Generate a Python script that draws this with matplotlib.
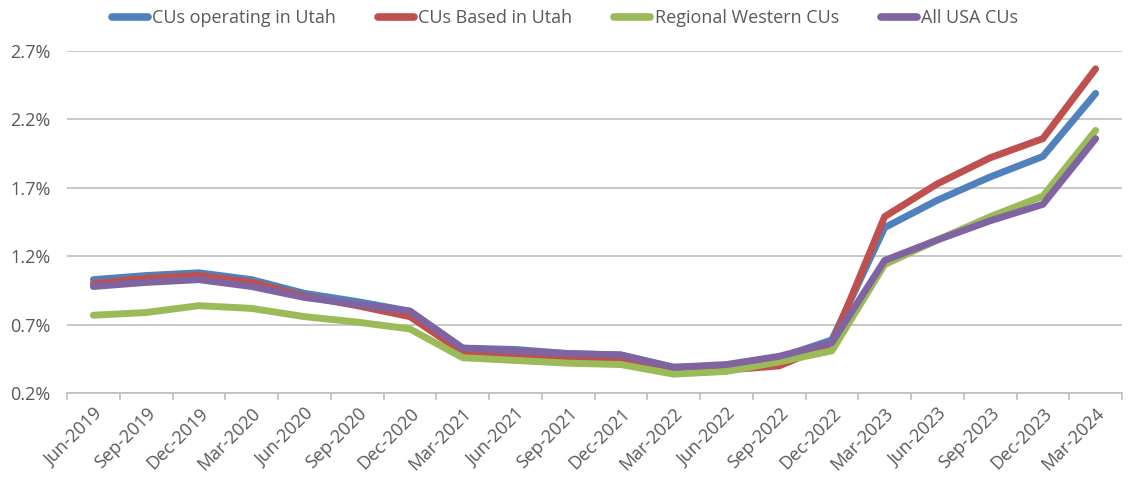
import matplotlib
matplotlib.use("Agg")
import matplotlib.pyplot as plt
from matplotlib.ticker import FixedLocator, FuncFormatter

categories = ["Jun-2019", "Sep-2019", "Dec-2019", "Mar-2020", "Jun-2020", "Sep-2020",
              "Dec-2020", "Mar-2021", "Jun-2021", "Sep-2021", "Dec-2021", "Mar-2022",
              "Jun-2022", "Sep-2022", "Dec-2022", "Mar-2023", "Jun-2023", "Sep-2023",
              "Dec-2023", "Mar-2024"]

utah_operating = [1.03, 1.06, 1.08, 1.03, 0.93, 0.87, 0.80, 0.53, 0.52, 0.49, 0.48, 0.39,
                  0.40, 0.46, 0.59, 1.41, 1.61, 1.78, 1.93, 2.39]
utah_based = [1.00, 1.04, 1.06, 1.01, 0.91, 0.84, 0.76, 0.50, 0.48, 0.46, 0.45, 0.37,
              0.37, 0.40, 0.56, 1.49, 1.73, 1.92, 2.06, 2.57]
regional_western = [0.77, 0.79, 0.84, 0.82, 0.76, 0.72, 0.67, 0.46, 0.44, 0.42, 0.41, 0.34,
                    0.36, 0.43, 0.51, 1.14, 1.32, 1.49, 1.64, 2.12]
all_usa = [0.98, 1.01, 1.03, 0.98, 0.90, 0.85, 0.80, 0.53, 0.51, 0.49, 0.48, 0.39,
           0.41, 0.47, 0.57, 1.17, 1.32, 1.46, 1.58, 2.06]

series_names = ["CUs operating in Utah", "CUs Based in Utah", "Regional Western CUs", "All USA CUs"]
colors = ["#4F81BD", "#C0504D", "#9BBB59", "#8064A2"]
yticks = [0.2, 0.7, 1.2, 1.7, 2.2, 2.7]

plt.rcParams['font.family'] = ['Open Sans', 'DejaVu Sans']
text_color = "#595959"
fs = 13

fig = plt.figure(figsize=(11.30, 4.79), dpi=100)
ax = fig.add_axes([67/1130, 1 - 393.3/479, (1122 - 67)/1130, (393.3 - 51)/479])

x = list(range(len(categories)))
for vals, name, c in zip([utah_operating, utah_based, regional_western, all_usa], series_names, colors):
    ax.plot(x, vals, color=c, lw=5, label=name, solid_capstyle='round', solid_joinstyle='round', zorder=3)

ax.set_xlim(-0.5, len(categories) - 0.5)
ax.set_ylim(0.2, 2.7)
ax.yaxis.set_major_locator(FixedLocator(yticks))
ax.yaxis.set_major_formatter(FuncFormatter(lambda v, p: f"{v:.1f}%"))
ax.grid(axis='y', color='#BFBFBF', lw=1.2, zorder=0)
ax.set_axisbelow(True)

for s in ['top', 'right', 'left']:
    ax.spines[s].set_visible(False)
ax.spines['bottom'].set_color('#BFBFBF')
ax.spines['bottom'].set_linewidth(1.2)

ax.set_xticks(x)
ax.set_xticklabels(categories, rotation=45, ha='right', rotation_mode='anchor',
                   fontsize=fs, color=text_color)
ax.tick_params(axis='x', which='major', length=0, pad=8)
ax.set_xticks([i - 0.5 for i in range(len(categories) + 1)], minor=True)
ax.tick_params(axis='x', which='minor', length=5, color='#BFBFBF', width=1.2)
ax.tick_params(axis='y', length=0, pad=12, labelsize=fs, labelcolor=text_color)

leg = fig.legend(loc='upper center', bbox_to_anchor=(0.5, 1.015), ncol=4, frameon=False,
                 fontsize=fs, handlelength=2.0, handletextpad=0.25, columnspacing=2.3)
for t in leg.get_texts():
    t.set_color(text_color)
for h in leg.legend_handles:
    h.set_linewidth(5.5)
    h.set_solid_capstyle('round')

fig.savefig("out.png", dpi=100)
